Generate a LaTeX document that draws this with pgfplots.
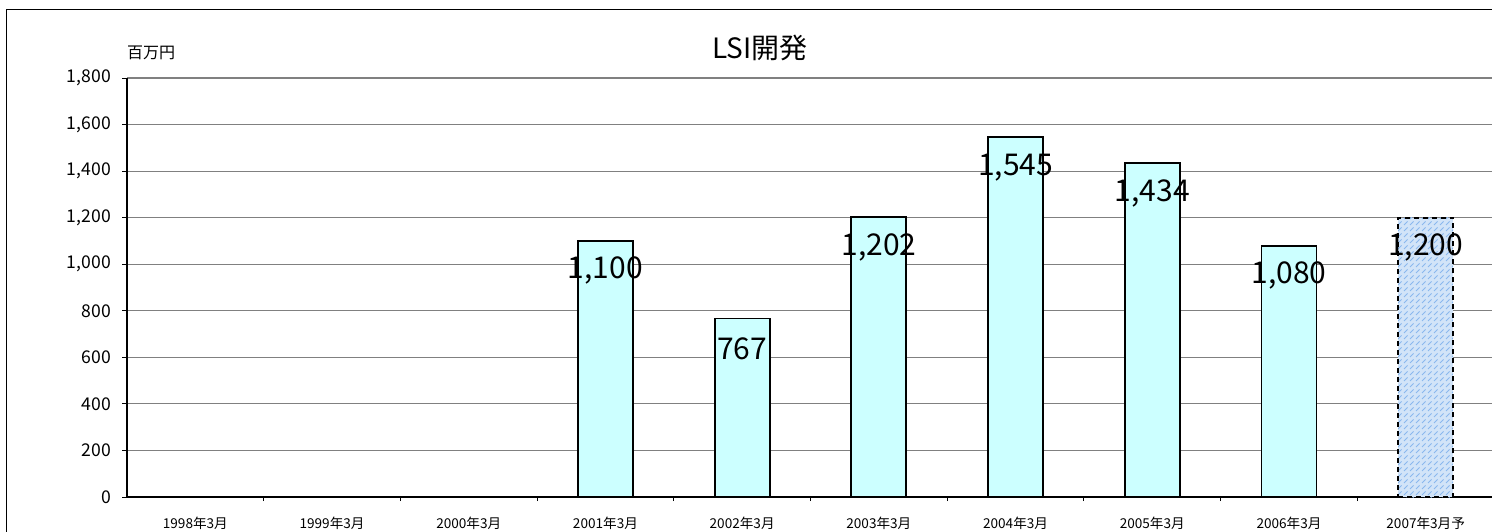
\documentclass[border=0pt]{standalone}
\usepackage{fontspec}
\setmainfont{Noto Sans CJK JP}
\usepackage{pgfplots}
\pgfplotsset{compat=1.18}
\usetikzlibrary{patterns}
\definecolor{barcyan}{HTML}{CCFFFF}
\definecolor{gridgray}{HTML}{808080}
\definecolor{patblue}{HTML}{8AB8EE}
\definecolor{patlight}{HTML}{D2E4F8}

\begin{document}
\begin{tikzpicture}
\begin{axis}[
    scale only axis,
    width=683.5pt,
    height=209.5pt,
    at={(0,0)}, anchor=south west,
    xmin=-0.5, xmax=9.5,
    ymin=0, ymax=1800,
    axis x line*=bottom,
    axis y line*=left,
    axis line style={line width=0.8pt, black},
    ybar, bar width=27.5pt, bar shift=0pt,
    xtick={0,...,9},
    xticklabels={1998年3月,1999年3月,2000年3月,2001年3月,2002年3月,2003年3月,2004年3月,2005年3月,2006年3月,2007年3月予},
    major x tick style={draw=none},
    minor xtick={0.5,1.5,...,8.5},
    minor x tick style={black, line width=0.5pt},
    minor tick length=2pt,
    x tick label style={font=\fontsize{6.8}{7}\selectfont, yshift=-4pt},
    ytick={0,200,...,1800},
    ytick align=outside,
    y tick style={black, line width=0.5pt},
    major tick length=2.5pt,
    y tick label style={font=\fontsize{8.8}{9}\selectfont, xshift=-2pt},
    ymajorgrids,
    major grid style={gridgray, line width=0.6pt},
    /pgf/number format/1000 sep={,},
    /pgf/number format/assume math mode=true,
    nodes near coords,
    every node near coord/.append style={anchor=center, yshift=-15pt, black, font=\fontsize{15}{15}\selectfont},
    clip=false,
]
\addplot[fill=barcyan, draw=black, line width=0.9pt] coordinates {
    (3,1100) (4,767) (5,1202) (6,1545) (7,1434) (8,1080)
};
\addplot[fill=patlight, draw=black, line width=1.1pt, dash pattern=on 2.5pt off 2pt,
    postaction={pattern=north east lines, pattern color=patblue}] coordinates {
    (9,1200)
};
\node[font=\fontsize{14}{14}\selectfont] at (rel axis cs:0.463,1.072) {LSI開発};
\node[font=\fontsize{8}{8}\selectfont] at (rel axis cs:0.0176,1.06) {百万円};
\end{axis}
\draw[black, line width=0.5pt] (-60pt,-40pt) -- (-60pt,243.5pt) -- (720pt,243.5pt);
\pgfresetboundingbox
\useasboundingbox (-63.5pt,-17pt) rectangle (682.5pt,248.5pt);
\end{tikzpicture}
\end{document}
